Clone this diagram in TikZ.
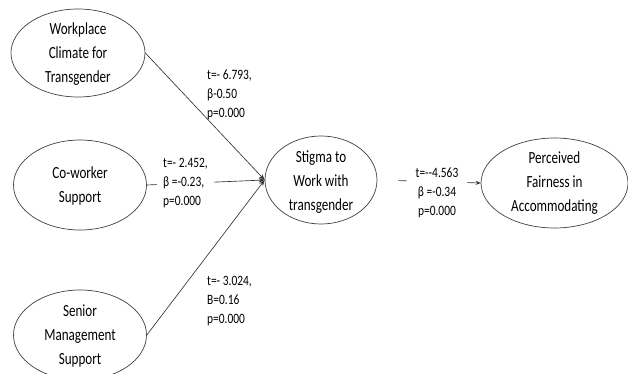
\documentclass[tikz,border=0pt]{standalone}
\usepackage{fontspec}
\newfontfamily\narrowfont[FakeStretch=0.77]{Carlito}
\newfontfamily\coeffont[FakeStretch=0.8]{Carlito}
\usetikzlibrary{shapes.geometric,arrows.meta}
\begin{document}
\begin{tikzpicture}[x=1pt,y=-1pt,
  construct/.style={ellipse,draw=black!75,line width=0.7pt,inner sep=0pt},
  ctext/.style={align=center,text=black,font={\narrowfont\fontsize{17}{24}\selectfont}},
  coef/.style={text=black,inner sep=0pt,font={\coeffont\fontsize{14.3}{19}\selectfont}},
  arr/.style={draw=black!80,line width=0.65pt,-{Stealth[length=6pt,width=4.5pt]}}]
\useasboundingbox (0,0) rectangle (628,374);
% constructs
\node[construct,minimum width=134pt,minimum height=88pt] (wc) at (78,53) {};
\node[ctext] (wct) at (78,54) {Workplace\\Climate for\\Transgender};
\node[construct,minimum width=133pt,minimum height=90pt] (cw) at (80,185) {};
\node[ctext] (cwt) at (80,186) {Co-worker\\Support};
\node[construct,minimum width=133pt,minimum height=90pt] (sm) at (80,335) {};
\node[ctext] (smt) at (80,336) {Senior\\Management\\Support};
\node[construct,minimum width=112pt,minimum height=88pt] (st) at (321,180) {};
\node[ctext] (stt) at (321,182) {Stigma to\\Work with\\transgender};
\node[construct,minimum width=147pt,minimum height=90pt] (pf) at (554.5,183) {};
\node[ctext] (pft) at (554.5,183) {Perceived\\Fairness in\\Accommodating};
% paths
\draw[arr] (wc.east) -- (st.west);
\draw[arr] (cw.east) -- (st.west);
\draw[arr] (sm.east) -- (st.west);
\draw[arr,-{Stealth[length=5pt,width=4pt]},shorten <=21pt] (st.east) -- (pf.west);
% coefficients
\node[coef,anchor=west,align=left] (l1) at (207,95) {t=- 6.793,\\β-0.50\\p=0.000};
\node[coef,anchor=west,align=left,fill=white,inner xsep=6pt] (l2) at (157,183) {t=- 2.452,\\β =-0.23,\\p=0.000\hspace{9pt}};
\node[coef,anchor=west,align=left] (l3) at (207,301) {t=- 3.024,\\B=0.16\\p=0.000};
\node[coef,align=center,fill=white,inner xsep=9pt] (l4) at (437,193) {t=--4.563\\β =-0.34\\p=0.000};
\end{tikzpicture}
\end{document}
